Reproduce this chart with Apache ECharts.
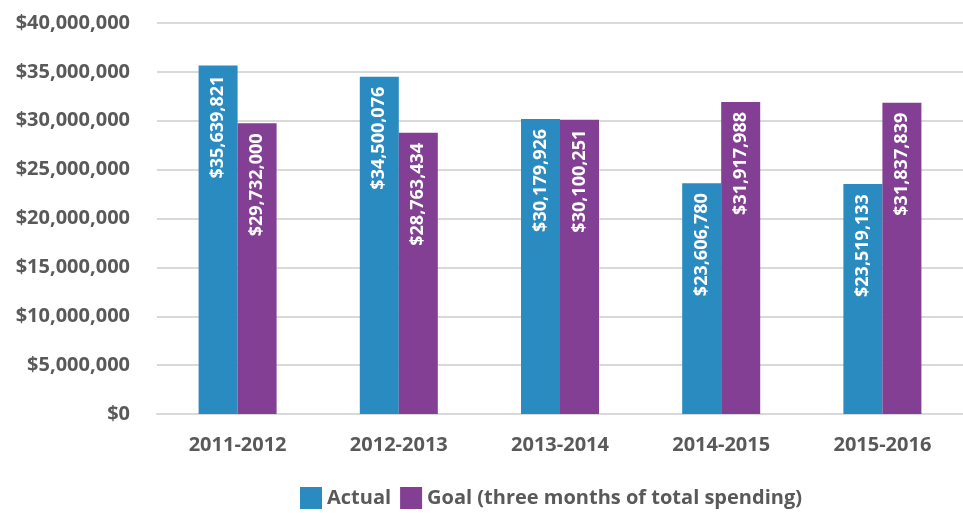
<!DOCTYPE html>
<html>
<head>
<meta charset="utf-8">
<script src="https://cdn.jsdelivr.net/npm/echarts@6/dist/echarts.min.js"></script>
<style>
  html, body { margin: 0; padding: 0; background: #fff; }
  #main { width: 963px; height: 513px; }
</style>
</head>
<body>
<div id="main"></div>
<script>
var years = ['2011-2012', '2012-2013', '2013-2014', '2014-2015', '2015-2016'];
var actual = [35639821, 34500076, 30179926, 23606780, 23519133];
var goal = [29732000, 28763434, 30100251, 31917988, 31837839];
var seriesNames = ['Actual', 'Goal (three months of total spending)'];

var fontFamily = '"Open Sans", "Noto Sans", sans-serif';

function money(v) {
    return '$' + Math.round(v).toString().replace(/\B(?=(\d{3})+(?!\d))/g, ',');
}

var barLabel = {
    show: true,
    position: 'insideTop',
    rotate: 90,
    align: 'right',
    verticalAlign: 'middle',
    distance: 10,
    color: '#ffffff',
    fontFamily: fontFamily,
    fontWeight: 'bold',
    fontSize: 18,
    formatter: function (p) { return money(p.value); }
};

var myChart = echarts.init(document.getElementById('main'));
myChart.setOption({
    animation: false,
    grid: { left: 157, right: 0, top: 23, bottom: 99, containLabel: false },
    legend: {
        bottom: 4,
        left: 300,
        padding: 0,
        itemWidth: 22,
        itemHeight: 22,
        itemGap: 9,
        icon: 'rect',
        textStyle: { fontFamily: fontFamily, fontSize: 20, fontWeight: 'bold', color: '#595959' },
        data: seriesNames
    },
    xAxis: {
        type: 'category',
        data: years,
        axisLine: { lineStyle: { color: '#d9d9d9', width: 2 } },
        axisTick: { show: false },
        axisLabel: { fontFamily: fontFamily, fontSize: 20, fontWeight: 'bold', color: '#595959', margin: 21 }
    },
    yAxis: {
        type: 'value',
        min: 0,
        max: 40000000,
        interval: 5000000,
        axisLine: { show: false },
        axisTick: { show: false },
        splitLine: { lineStyle: { color: '#d9d9d9', width: 2 } },
        axisLabel: {
            fontFamily: fontFamily, fontSize: 20, fontWeight: 'bold', color: '#595959', margin: 27,
            formatter: function (v) { return money(v); }
        }
    },
    series: [
        {
            name: seriesNames[0], type: 'bar', data: actual,
            barWidth: 39, barGap: '0%',
            itemStyle: { color: '#2a8bc0' },
            label: barLabel
        },
        {
            name: seriesNames[1], type: 'bar', data: goal,
            barWidth: 39,
            itemStyle: { color: '#823f93' },
            label: barLabel
        }
    ]
});
</script>
</body>
</html>
